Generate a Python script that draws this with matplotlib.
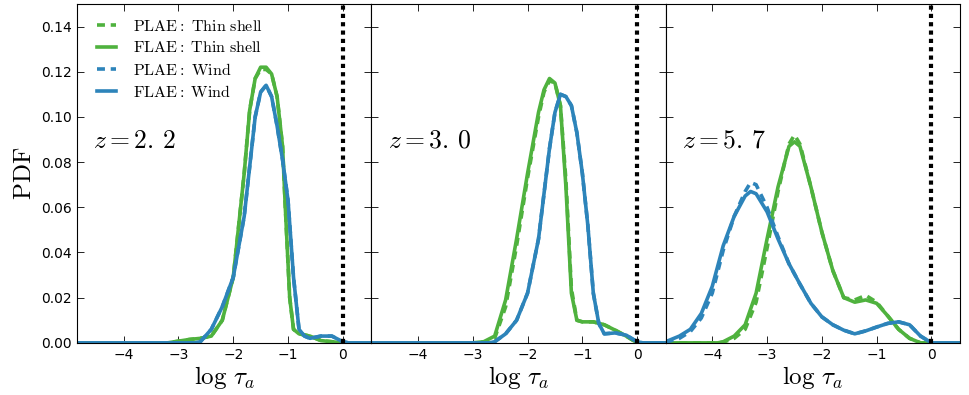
import matplotlib
matplotlib.use("Agg")
import matplotlib.pyplot as plt
import numpy as np

plt.rcParams['mathtext.fontset'] = 'cm'
plt.rcParams['font.family'] = 'DejaVu Sans'

GREEN = '#4fb23e'
BLUE = '#2d84ba'

redshift_labels = [r'$z=2.\,2$', r'$z=3.\,0$', r'$z=5.\,7$']
legend_labels = [r'$\mathrm{PLAE:\ Thin\ shell}$', r'$\mathrm{FLAE:\ Thin\ shell}$',
                 r'$\mathrm{PLAE:\ Wind}$', r'$\mathrm{FLAE:\ Wind}$']

# ---- z = 2.2 ----
x1_shell = [-4.85, -3.2, -2.8, -2.6, -2.4, -2.2, -2.0, -1.8, -1.7, -1.6, -1.5, -1.4, -1.3, -1.2,
            -1.1, -1.05, -0.97, -0.9, -0.8, -0.6, -0.4, -0.2, 0.0, 0.5]
f1_shell = [0.0, 0.0, 0.0015, 0.002, 0.003, 0.010, 0.029, 0.075, 0.103, 0.117, 0.122, 0.122, 0.119,
            0.109, 0.087, 0.060, 0.020, 0.006, 0.004, 0.003, 0.001, 0.0005, 0.0, 0.0]
p1_shell = [0.0, 0.0, 0.0015, 0.002, 0.003, 0.010, 0.029, 0.075, 0.103, 0.117, 0.121, 0.121, 0.119,
            0.109, 0.087, 0.060, 0.020, 0.006, 0.004, 0.003, 0.001, 0.0005, 0.0, 0.0]
x1_wind = [-4.85, -2.7, -2.6, -2.4, -2.2, -2.0, -1.8, -1.6, -1.5, -1.4, -1.3, -1.2, -1.1, -1.0,
           -0.9, -0.8, -0.7, -0.6, -0.4, -0.2, 0.0, 0.1, 0.5]
f1_wind = [0.0, 0.0, 0.0005, 0.006, 0.016, 0.029, 0.056, 0.100, 0.111, 0.114, 0.109, 0.096, 0.081,
           0.063, 0.029, 0.006, 0.003, 0.002, 0.003, 0.003, 0.0005, 0.0, 0.0]
p1_wind = [0.0, 0.0, 0.0005, 0.006, 0.016, 0.029, 0.056, 0.100, 0.111, 0.114, 0.109, 0.096, 0.081,
           0.063, 0.029, 0.006, 0.003, 0.002, 0.003, 0.003, 0.0005, 0.0, 0.0]

# ---- z = 3.0 ----
x2_shell = [-4.85, -3.0, -2.8, -2.6, -2.4, -2.2, -2.0, -1.8, -1.7, -1.6, -1.5, -1.4, -1.3, -1.2,
            -1.1, -1.0, -0.8, -0.6, -0.4, -0.2, 0.0, 0.5]
f2_shell = [0.0, 0.0, 0.0005, 0.003, 0.019, 0.046, 0.075, 0.102, 0.112, 0.117, 0.115, 0.105, 0.069,
            0.022, 0.010, 0.0093, 0.0093, 0.008, 0.0056, 0.003, 0.0, 0.0]
p2_shell = [0.0, 0.0, 0.0003, 0.002, 0.016, 0.043, 0.073, 0.100, 0.111, 0.116, 0.115, 0.105, 0.072,
            0.024, 0.010, 0.0093, 0.0093, 0.008, 0.0056, 0.003, 0.0, 0.0]
x2_wind = [-4.85, -2.7, -2.6, -2.4, -2.2, -2.0, -1.8, -1.6, -1.5, -1.4, -1.3, -1.2, -1.1, -1.0,
           -0.9, -0.8, -0.7, -0.6, -0.4, -0.2, -0.05, 0.0, 0.1, 0.5]
f2_wind = [0.0, 0.0, 0.0005, 0.004, 0.010, 0.022, 0.046, 0.086, 0.102, 0.110, 0.109, 0.105, 0.093,
           0.075, 0.052, 0.022, 0.0086, 0.004, 0.0044, 0.0034, 0.0012, 0.0005, 0.0, 0.0]
p2_wind = [0.0, 0.0, 0.0005, 0.004, 0.010, 0.022, 0.046, 0.086, 0.102, 0.110, 0.109, 0.105, 0.093,
           0.075, 0.052, 0.022, 0.0086, 0.004, 0.0044, 0.0034, 0.0012, 0.0005, 0.0, 0.0]

# ---- z = 5.7 ----
x3_shell = [-4.85, -3.9, -3.8, -3.6, -3.4, -3.2, -3.0, -2.8, -2.6, -2.5, -2.4, -2.2, -2.0, -1.8,
            -1.6, -1.4, -1.2, -1.0, -0.8, -0.6, -0.4, -0.2, 0.5]
f3_shell = [0.0, 0.0, 0.0005, 0.003, 0.008, 0.022, 0.046, 0.069, 0.087, 0.089, 0.087, 0.069, 0.049,
            0.032, 0.020, 0.018, 0.019, 0.0175, 0.012, 0.006, 0.002, 0.0, 0.0]
p3_shell = [0.0, 0.0, 0.0003, 0.002, 0.006, 0.018, 0.042, 0.067, 0.088, 0.092, 0.088, 0.069, 0.049,
            0.032, 0.020, 0.019, 0.021, 0.018, 0.012, 0.006, 0.002, 0.0, 0.0]
x3_wind = [-4.85, -4.6, -4.4, -4.2, -4.0, -3.8, -3.6, -3.4, -3.3, -3.2, -3.0, -2.8, -2.6, -2.4,
           -2.2, -2.0, -1.8, -1.6, -1.4, -1.2, -1.0, -0.8, -0.6, -0.4, -0.2, 0.0, 0.5]
f3_wind = [0.0005, 0.003, 0.006, 0.013, 0.025, 0.043, 0.056, 0.065, 0.067, 0.066, 0.058, 0.046,
           0.035, 0.026, 0.0175, 0.0115, 0.008, 0.0056, 0.004, 0.0053, 0.007, 0.0086, 0.0093,
           0.008, 0.003, 0.0, 0.0]
p3_wind = [0.0003, 0.002, 0.005, 0.011, 0.022, 0.041, 0.056, 0.067, 0.071, 0.070, 0.060, 0.047,
           0.035, 0.026, 0.0175, 0.0115, 0.008, 0.0056, 0.004, 0.0053, 0.007, 0.0086, 0.0093,
           0.008, 0.003, 0.0, 0.0]

panels = [
    (x1_shell, p1_shell, f1_shell, x1_wind, p1_wind, f1_wind),
    (x2_shell, p2_shell, f2_shell, x2_wind, p2_wind, f2_wind),
    (x3_shell, p3_shell, f3_shell, x3_wind, p3_wind, f3_wind),
]

xticks = [-4, -3, -2, -1, 0]
yticks = [0.00, 0.02, 0.04, 0.06, 0.08, 0.10, 0.12, 0.14]

fig, axes = plt.subplots(1, 3, figsize=(9.69, 3.95), dpi=100, sharey=True)
fig.subplots_adjust(left=0.0795, right=0.9907, top=0.99, bottom=0.132, wspace=0)

lw = 2.6
for i, (ax, data) in enumerate(zip(axes, panels)):
    xs, ps, fs, xw, pw, fw = data
    ax.plot(xs, ps, color=GREEN, lw=lw, ls=(0, (2.2, 1.6)), label=legend_labels[0])
    ax.plot(xs, fs, color=GREEN, lw=lw, label=legend_labels[1])
    ax.plot(xw, pw, color=BLUE, lw=lw, ls=(0, (2.2, 1.6)), label=legend_labels[2])
    ax.plot(xw, fw, color=BLUE, lw=lw, label=legend_labels[3])
    ax.axvline(0, color='black', lw=3, ls=(0, (1, 1)))
    ax.set_xlim(-4.85, 0.52)
    ax.set_ylim(0, 0.15)
    ax.set_xticks(xticks)
    ax.set_xticklabels([f'\u2212{abs(t)}' if t < 0 else f'{t}' for t in xticks], fontsize=10)
    ax.tick_params(direction='in', top=True, right=True, length=5, width=0.6, labelsize=10)
    ax.set_xlabel(r'$\log\,\tau_a$', fontsize=18, labelpad=2)
    ax.text(0.055, 0.596, redshift_labels[i], transform=ax.transAxes, fontsize=18.5,
            ha='left', va='center')
    for s in ax.spines.values():
        s.set_linewidth(0.8)

axes[0].set_yticks(yticks)
axes[0].set_yticklabels([f'{t:.2f}' for t in yticks], fontsize=10)
axes[0].set_ylabel(r'$\mathrm{PDF}$', fontsize=18, labelpad=4)
axes[0].legend(loc='upper left', frameon=False, fontsize=11.5, handlelength=1.2,
               handletextpad=1.1, borderaxespad=0.0, labelspacing=0.4,
               bbox_to_anchor=(0.045, 0.975))

fig.savefig('out.png', dpi=100)
